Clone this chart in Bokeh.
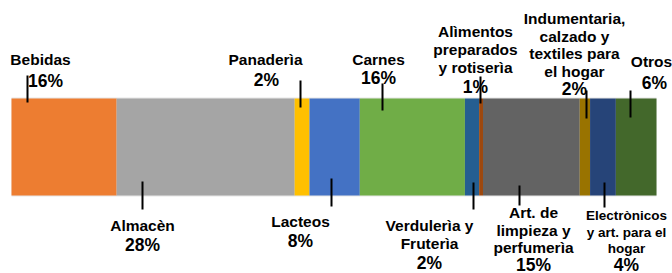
from bokeh.plotting import figure
from bokeh.models import Range1d, ColumnDataSource
from bokeh.embed import file_html
from bokeh.resources import INLINE
from bokeh.core.properties import value

# ---- data ----
categories = ["Bebidas", "Almacèn", "Panaderìa", "Lacteos", "Carnes",
              "Verdulerìa y\nFruterìa", "Alìmentos\npreparados\ny rotiserìa",
              "Art. de\nlimpieza y\nperfumerìa",
              "Indumentaria,\ncalzado y\ntextiles para\nel hogar",
              "Electrònicos\ny art. para el\nhogar", "Otros"]
shares = [16.3, 27.6, 2.3, 7.8, 16.3, 2.2, 0.6, 15.0, 1.6, 4.0, 6.3]
pct_labels = ["16%", "28%", "2%", "8%", "16%", "2%", "1%", "15%", "2%", "4%", "6%"]
colors = ["#ED7D31", "#A5A5A5", "#FFC000", "#4472C4", "#70AD47", "#255E91",
          "#9E480E", "#636363", "#997300", "#264478", "#43682B"]

# ---- layout (page pixel space for y, percent axis for x) ----
PX0, PX1 = 11.0, 656.0          # bar pixel extent
scale = (PX1 - PX0) / 100.0
def px2d(px):
    return (px - PX0) / scale

bar_top, bar_bottom = 98, 195
# per label: side, leader x(px), leader y0,y1, name x(px), first name line y, pct x(px), pct y, name font size, line step
layout = [
    ("up",   27, 75, 102, 40, 59, 45, 80, "15.5px", 17.5),
    ("down", 142, 181, 209, 142, 225, 142, 244, "15.5px", 17.5),
    ("up",   300, 80, 107, 265, 59, 266, 79, "15.5px", 17.5),
    ("down", 331, 178, 206, 300, 221, 300, 240, "15.5px", 17.5),
    ("up",   382, 83, 110, 378, 59, 378, 77, "15.5px", 17.5),
    ("down", 473, 182, 209, 429, 225, 429, 262, "15.5px", 17.5),
    ("up",   480, 76, 103, 475, 31, 475, 86, "15.5px", 18.0),
    ("down", 519, 185, 205, 533, 212, 533, 264, "15.5px", 17.5),
    ("up",   586, 90, 118, 574, 18, 574, 88, "15.5px", 17.5),
    ("down", 604, 182, 207, 626, 215, 626, 264, "13.5px", 16.5),
    ("up",   630, 90, 117, 651, 61, 654, 82, "15.5px", 17.5),
]

W, H = 672, 273
p = figure(width=W, height=H, output_backend="svg", toolbar_location=None,
           x_range=Range1d(px2d(0), px2d(W)), y_range=Range1d(H, 0),
           min_border=0, outline_line_color=None)
p.axis.visible = False
p.grid.visible = False
p.background_fill_color = "white"

# bar segments
lefts, rights = [], []
acc = 0.0
for s in shares:
    lefts.append(acc)
    acc += s
    rights.append(acc)
src = ColumnDataSource(dict(left=lefts, right=rights, color=colors))
p.quad(left=[0], right=[acc], top=[bar_top - 1], bottom=[bar_bottom + 1],
       fill_color="#E6E6E6", line_color=None)
p.quad(left="left", right="right", top=bar_top, bottom=bar_bottom,
       fill_color="color", line_color=None, source=src)

# leader lines
p.segment(x0=[px2d(l[1]) for l in layout], x1=[px2d(l[1]) for l in layout],
          y0=[l[2] for l in layout], y1=[l[3] for l in layout],
          line_color="black", line_width=2)

font = value("Liberation Sans")
# names
for cat, l in zip(categories, layout):
    lines = cat.split("\n")
    xs = [px2d(l[4])] * len(lines)
    ys = [l[5] + i * l[9] for i in range(len(lines))]
    p.text(x=xs, y=ys, text=lines, text_font=font, text_font_style="bold",
           text_font_size=l[8], text_align="center", text_baseline="middle",
           text_color="black")
# percentages
p.text(x=[px2d(l[6]) for l in layout], y=[l[7] for l in layout], text=pct_labels,
       text_font=font, text_font_style="bold", text_font_size="17.5px",
       text_align="center", text_baseline="middle", text_color="black")

open("out.html", "w").write(file_html(p, INLINE))
